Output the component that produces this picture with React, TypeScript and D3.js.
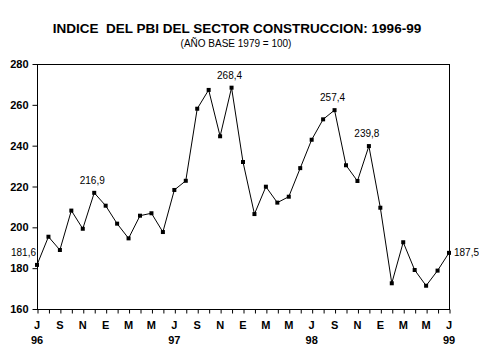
import React, { useEffect, useRef } from 'react';
import * as d3 from 'd3';

const months = ['J', 'A', 'S', 'O', 'N', 'D', 'E', 'F', 'M', 'A', 'M', 'J',
  'J', 'A', 'S', 'O', 'N', 'D', 'E', 'F', 'M', 'A', 'M', 'J',
  'J', 'A', 'S', 'O', 'N', 'D', 'E', 'F', 'M', 'A', 'M', 'J', 'J'];

const values = [
  181.6, 195.4, 188.9, 208.2, 199.3, 216.9,
  210.6, 201.8, 194.6, 205.7, 206.9, 197.7,
  218.3, 222.8, 258.1, 267.3, 244.6, 268.4,
  232.0, 206.5, 219.9, 212.1, 215.0, 229.0,
  242.9, 252.9, 257.4, 230.4, 222.7, 239.8,
  209.6, 172.6, 192.7, 179.1, 171.4, 178.8,
  187.5,
];

const yearLabels = [
  { index: 0, text: '96' },
  { index: 12, text: '97' },
  { index: 24, text: '98' },
  { index: 36, text: '99' },
];

const labelledPoints = [0, 5, 17, 26, 29, 36];
const yTicks = [160, 180, 200, 220, 240, 260, 280];

const App: React.FC = () => {
  const chartRef = useRef<SVGSVGElement | null>(null);

  useEffect(() => {
    document.body.style.margin = '0';
    if (!chartRef.current) return;
    const svg = d3.select(chartRef.current);
    svg.selectAll('*').remove();

    const left = 37, right = 449, top = 64, bottom = 309;
    const font = '"Liberation Sans", Arial, sans-serif';

    const x = d3.scaleLinear().domain([0, values.length - 1]).range([left, right]);
    const y = d3.scaleLinear().domain([160, 280]).range([bottom, top]);

    svg.append('rect')
      .attr('width', 479).attr('height', 359).attr('fill', '#fff');

    // titles
    svg.append('text')
      .attr('x', 237).attr('y', 33)
      .attr('text-anchor', 'middle')
      .style('white-space', 'pre')
      .attr('font-family', font).attr('font-weight', 'bold').attr('font-size', 13.5)
      .text('INDICE  DEL PBI DEL SECTOR CONSTRUCCION: 1996-99');
    svg.append('text')
      .attr('x', 236).attr('y', 47)
      .attr('text-anchor', 'middle')
      .attr('font-family', font).attr('font-size', 10)
      .text('(AÑO BASE 1979 = 100)');

    // plot frame
    svg.append('rect')
      .attr('x', left + 0.5).attr('y', top + 0.5)
      .attr('width', right - left).attr('height', bottom - top)
      .attr('fill', 'none').attr('stroke', '#000').attr('stroke-width', 1);

    // y axis
    const yAxis = svg.append('g').attr('transform', `translate(${left + 0.5},0)`)
      .call(d3.axisLeft(y).tickValues(yTicks).tickSize(5).tickPadding(4));
    yAxis.select('.domain').remove();
    yAxis.selectAll('text')
      .attr('font-family', font).attr('font-weight', 'bold').attr('font-size', 11)
      .attr('fill', '#000');

    // x axis
    const xAxis = svg.append('g').attr('transform', `translate(0,${bottom + 0.5})`)
      .call(d3.axisBottom(x).tickValues(d3.range(values.length)).tickSize(4).tickFormat(() => ''));
    xAxis.select('.domain').remove();
    xAxis.selectAll('line').attr('transform', 'translate(0.5,0)');

    svg.append('g').selectAll('text')
      .data(d3.range(0, values.length, 2))
      .enter().append('text')
      .attr('x', d => x(d))
      .attr('y', 329)
      .attr('text-anchor', 'middle')
      .attr('font-family', font).attr('font-weight', 'bold').attr('font-size', 11)
      .text(d => months[d]);

    svg.append('g').selectAll('text')
      .data(yearLabels)
      .enter().append('text')
      .attr('x', d => x(d.index))
      .attr('y', 344)
      .attr('text-anchor', 'middle')
      .attr('font-family', font).attr('font-weight', 'bold').attr('font-size', 11)
      .text(d => d.text);

    // line
    const line = d3.line<number>().x((_, i) => x(i)).y(d => y(d));
    svg.append('path')
      .datum(values)
      .attr('d', line)
      .attr('fill', 'none').attr('stroke', '#000').attr('stroke-width', 1);

    svg.append('g').selectAll('rect')
      .data(values)
      .enter().append('rect')
      .attr('x', (_, i) => x(i) - 2)
      .attr('y', d => y(d) - 2)
      .attr('width', 4).attr('height', 4)
      .attr('fill', '#000');

    // value labels
    const last = values.length - 1;
    svg.append('g').selectAll('text')
      .data(labelledPoints)
      .enter().append('text')
      .attr('x', i => (i === 0 ? x(i) - 1 : i === last ? x(i) + 5 : x(i) - 2))
      .attr('y', i => (i === 0 ? y(values[i]) - 9 : i === last ? y(values[i]) + 3 : y(values[i]) - 9))
      .attr('text-anchor', i => (i === 0 ? 'end' : i === last ? 'start' : 'middle'))
      .attr('font-family', font).attr('font-size', 10)
      .text(i => d3.format('.1f')(values[i]).replace('.', ','));
  }, []);

  return <svg ref={chartRef} width="479" height="359" style={{ display: 'block' }}></svg>;
};

export default App;
